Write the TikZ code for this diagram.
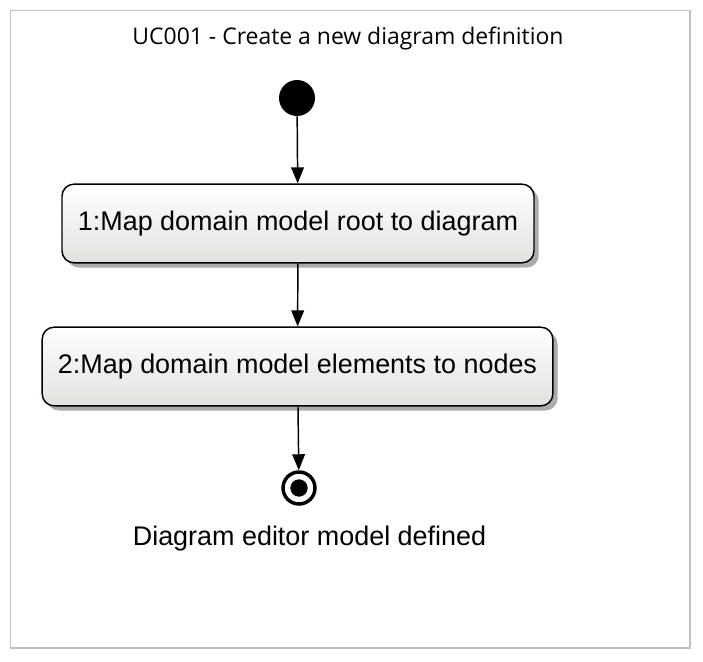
\documentclass[tikz,border=0pt]{standalone}
\usepackage{fontspec}
\setmainfont{Liberation Sans}
\newfontfamily\titlefont{Open Sans}
\usetikzlibrary{positioning,arrows.meta,shadows}

\definecolor{framegray}{RGB}{192,192,192}
\definecolor{actbottom}{RGB}{228,225,222}

\tikzset{
  action/.style={draw=black, line width=1.1pt, rounded corners=9pt,
    top color=white, bottom color=actbottom, minimum height=59pt,
    font=\fontsize{20.2pt}{24pt}\selectfont,
    drop shadow={shadow xshift=3.5pt, shadow yshift=-3.5pt, fill=black!55, opacity=0.6}},
  flow/.style={line width=1.1pt, -{Triangle[length=12pt,width=9.5pt]}},
}

\begin{document}
\begin{tikzpicture}[x=0.75pt, y=-0.75pt]
    % Fix the picture size
    \useasboundingbox (0,0) rectangle (703,661);

    % Draw the grey frame
    \draw[framegray, line width=0.75pt] (10,10) rectangle (689.5,647.5);
    \draw[framegray, line width=1.5pt] (689.5,10) -- (689.5,647.5) -- (10,647.5);

    % Title of the use case
    \node (title) at (348,38) {\titlefont\fontsize{17.2pt}{20pt}\selectfont UC001 - Create a new diagram definition};

    % Initial node
    \node[circle, fill=black, minimum size=27pt, inner sep=0pt] (init) at (297,98) {};

    % The two actions
    \node[action, minimum width=354pt] (map1) at (298,223.5) {1:Map domain model root to diagram};
    \node[action, minimum width=383pt] (map2) at (297.5,366.5) {2:Map domain model elements to nodes};

    % Final node with its label
    \node[circle, draw=black, line width=2.6pt, fill=white, minimum size=24pt, inner sep=0pt] (final) at (299,488) {};
    \fill (final.center) circle (6.5pt);
    \node[font=\fontsize{20.2pt}{24pt}\selectfont] (done) at (309.5,539) {Diagram editor model defined};

    % Control flows
    \draw[flow] (init) -- (map1);
    \draw[flow] (map1) -- (map2);
    \draw[flow] (map2) -- (final);

\end{tikzpicture}
\end{document}
